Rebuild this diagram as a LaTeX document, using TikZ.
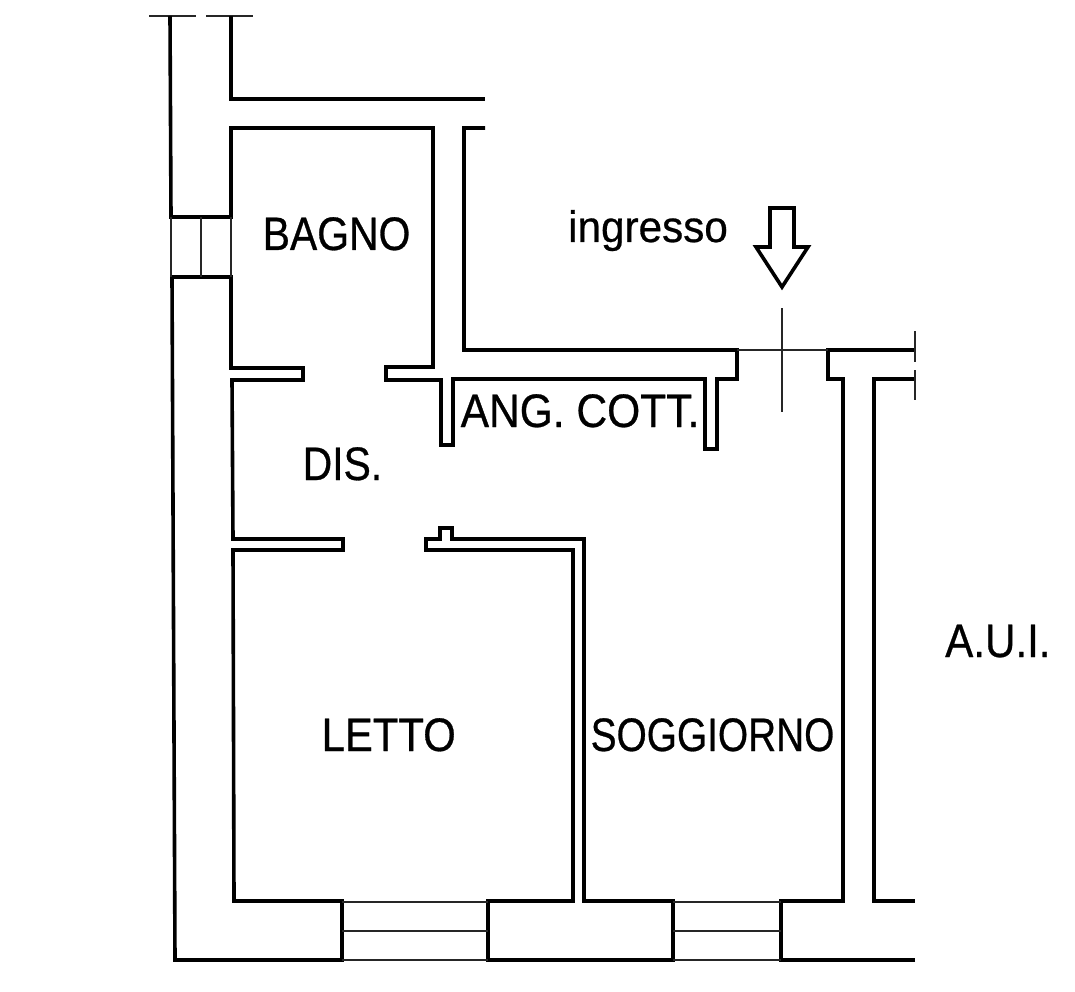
\documentclass[tikz,border=0pt]{standalone}
\usepackage{graphicx}
\usepackage{fontspec}
\setmainfont{Liberation Sans}
\newfontfamily\roomfont[FakeStretch=0.87,FakeBold=0.6]{Liberation Sans}
\newfontfamily\entryfont[FakeBold=0.6]{Liberation Sans}
\begin{document}
\begin{tikzpicture}[x=1pt,y=-1pt,
  wall/.style={line width=3.6pt,line join=miter,line cap=butt,black},
  thin/.style={line width=1.5pt,black!85},
  room/.style={font=\roomfont\fontsize{47}{47}\selectfont,inner sep=0pt,anchor=base west,black}]
\useasboundingbox (0,0) rectangle (1075,992);
% top stubs
\draw[thin,line width=1.7pt] (149,16) -- (196,16) (206,16) -- (253,16);
\draw[wall] (170,16) -- (171,217) -- (231,217) -- (231,128) -- (433,128) -- (433,367) -- (386,367) -- (386,380) -- (441,380) -- (441,445) -- (453,445) -- (453,379) -- (705,379) -- (705,449) -- (717,449) -- (717,379) -- (737,379) -- (737,350) -- (464,350) -- (464,128) -- (485,128);
\draw[wall] (231,16) -- (231,99) -- (485,99);
% left wall and rooms
\draw[wall] (175,960) -- (172,277) -- (231,277) -- (231,368) -- (303,368) -- (303,380) -- (232,380) -- (233,539) -- (343,539) -- (343,550) -- (233,550) -- (234,901) -- (342,901) -- (342,960) -- cycle;
\draw[wall] (488,960) -- (488,901) -- (573,901) -- (573,550) -- (426,550) -- (426,539) -- (440,539) -- (440,528) -- (452,528) -- (452,539) -- (584,539) -- (584,901) -- (673,901) -- (673,960) -- cycle;
\draw[wall] (915,960) -- (781,960) -- (781,901) -- (843,901) -- (843,379) -- (828,379) -- (828,350) -- (915,350);
\draw[wall] (915,379) -- (874,379) -- (874,901) -- (915,901);
% window in the left wall
\draw[thin] (171,217) -- (171,277) (201,217) -- (201,277) (231,217) -- (231,277);
% bottom windows
\draw[thin] (342,902) -- (488,902) (342,931) -- (488,931) (342,960) -- (488,960);
\draw[thin] (673,902) -- (781,902) (673,931) -- (781,931) (673,960) -- (781,960);
% entrance
\draw[thin] (737,350) -- (828,350);
\draw[thin] (782,308) -- (782,412);
\draw[thin] (915,331) -- (915,362) (915,370) -- (915,400);
\draw[wall] (770,208) -- (794,208) -- (794,247) -- (808,247) -- (782,287) -- (756,247) -- (770,247) -- cycle;
% labels
\node[room] (bagno) at (262.5,250) {BAGNO};
\node[room] (ang) at (460.5,427) {\scalebox{1.04}[1]{ANG. COTT.}};
\node[room] (dis) at (302.5,480) {DIS.};
\node[room] (letto) at (321.5,751) {\scalebox{1.023}[1]{LETTO}};
\node[room] (sogg) at (590.5,751) {\scalebox{0.949}[1]{SOGGIORNO}};
\node[room] (aui) at (945,657) {\scalebox{1.03}[1]{A.U.I.}};
\node[room,font=\entryfont\fontsize{44}{44}\selectfont] (ingr) at (568,242) {\scalebox{0.96}[1]{ingresso}};
\end{tikzpicture}
\end{document}
